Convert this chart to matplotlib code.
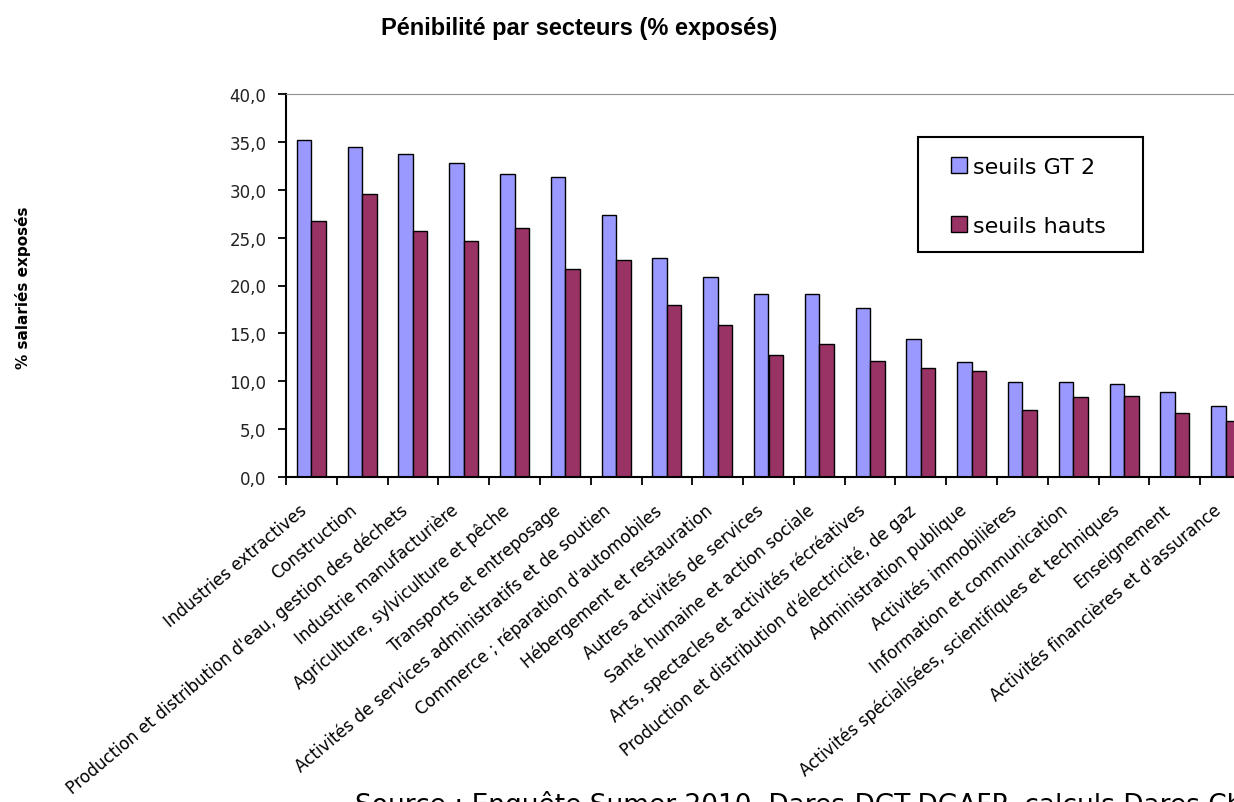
import numpy as np
import matplotlib
matplotlib.use('Agg')
import matplotlib.pyplot as plt
from matplotlib.transforms import ScaledTranslation
from matplotlib.patches import Rectangle

plt.rcParams['font.family'] = ['DejaVu Sans']

secteurs = [
    "Industries extractives",
    "Construction",
    "Production et distribution d'eau, gestion des déchets",
    "Industrie manufacturière",
    "Agriculture, sylviculture et pêche",
    "Transports et entreposage",
    "Activités de services administratifs et de soutien",
    "Commerce ; réparation d'automobiles",
    "Hébergement et restauration",
    "Autres activités de services",
    "Santé humaine et action sociale",
    "Arts, spectacles et activités récréatives",
    "Production et distribution d'électricité, de gaz",
    "Administration publique",
    "Activités immobilières",
    "Information et communication",
    "Activités spécialisées, scientifiques et techniques",
    "Enseignement",
    "Activités financières et d'assurance",
]
seuils_gt2 = [35.2, 34.5, 33.7, 32.8, 31.6, 31.3, 27.4, 22.9, 20.9, 19.1, 19.1, 17.6, 14.4, 12.0, 9.9, 9.9, 9.7, 8.9, 7.4]
seuils_hauts = [26.7, 29.6, 25.7, 24.6, 26.0, 21.7, 22.7, 18.0, 15.9, 12.7, 13.9, 12.1, 11.4, 11.1, 7.0, 8.4, 8.5, 6.7, 5.8]
yticks = [0, 5, 10, 15, 20, 25, 30, 35, 40]

W, H = 1234, 803
fig = plt.figure(figsize=(W / 100, H / 100), dpi=100)
ax = fig.add_axes([286 / W, 1 - 478 / H, 965 / W, 383 / H])

x = np.arange(len(secteurs))
w = 0.285
ax.bar(x - w / 2, seuils_gt2, w, color='#9999ff', edgecolor='black', linewidth=1, label='seuils GT 2')
ax.bar(x + w / 2, seuils_hauts, w, color='#993366', edgecolor='black', linewidth=1, label='seuils hauts')

ax.set_xlim(-0.5, len(secteurs) - 0.5)
ax.set_ylim(0, 40)
ax.set_yticks(yticks)
ax.set_yticklabels([f'{v:.1f}'.replace('.', ',') for v in yticks], fontsize=12, color='#222222')

ax.set_xticks(x - 0.5)
ax.set_xticklabels([])
ax.set_xticks(x, labels=secteurs, minor=True)
ax.tick_params(axis='x', which='major', direction='out', length=6, width=1.3)
ax.tick_params(axis='x', which='minor', length=0, pad=17, labelsize=12)
ax.tick_params(axis='y', direction='out', length=6, width=1.3, pad=8)

off = ScaledTranslation(-13 / 100, 0, fig.dpi_scale_trans)
for lab in ax.get_xticklabels(minor=True):
    lab.set_rotation(40)
    lab.set_ha('right')
    lab.set_va('top')
    lab.set_rotation_mode('anchor')
    lab.set_transform(lab.get_transform() + off)

for s in ['top', 'right']:
    ax.spines[s].set_color('#909090')
for s in ['left', 'bottom']:
    ax.spines[s].set_linewidth(1.5)

# legende : cadre dessine a part
leg = ax.legend(loc='upper left', bbox_to_anchor=(951 / W, 1 - 158 / H), bbox_transform=fig.transFigure,
                fontsize=16, frameon=False, handlelength=0.7, handleheight=0.7, handletextpad=0.3,
                labelspacing=1.75, borderpad=0, borderaxespad=0)
fig.patches.append(Rectangle((918 / W, 1 - 253 / H), 225 / W, 115 / H, transform=fig.transFigure,
                             fill=False, edgecolor='black', linewidth=1.5))

fig.text(579 / W, 1 - 29 / H, 'Pénibilité par secteurs (% exposés)', ha='center', va='center',
         fontsize=17, fontweight='bold', family='Liberation Sans')
fig.text(23 / W, 1 - 288 / H, '% salariés exposés', rotation=90, ha='center', va='center',
         fontsize=11, fontweight='bold')
fig.text(355 / W, 1 - 791 / H, 'Source : Enquête Sumer 2010, Dares-DGT-DGAFP, calculs Dares Champ',
         ha='left', va='top', fontsize=19)

fig.savefig('out.png', dpi=100)
